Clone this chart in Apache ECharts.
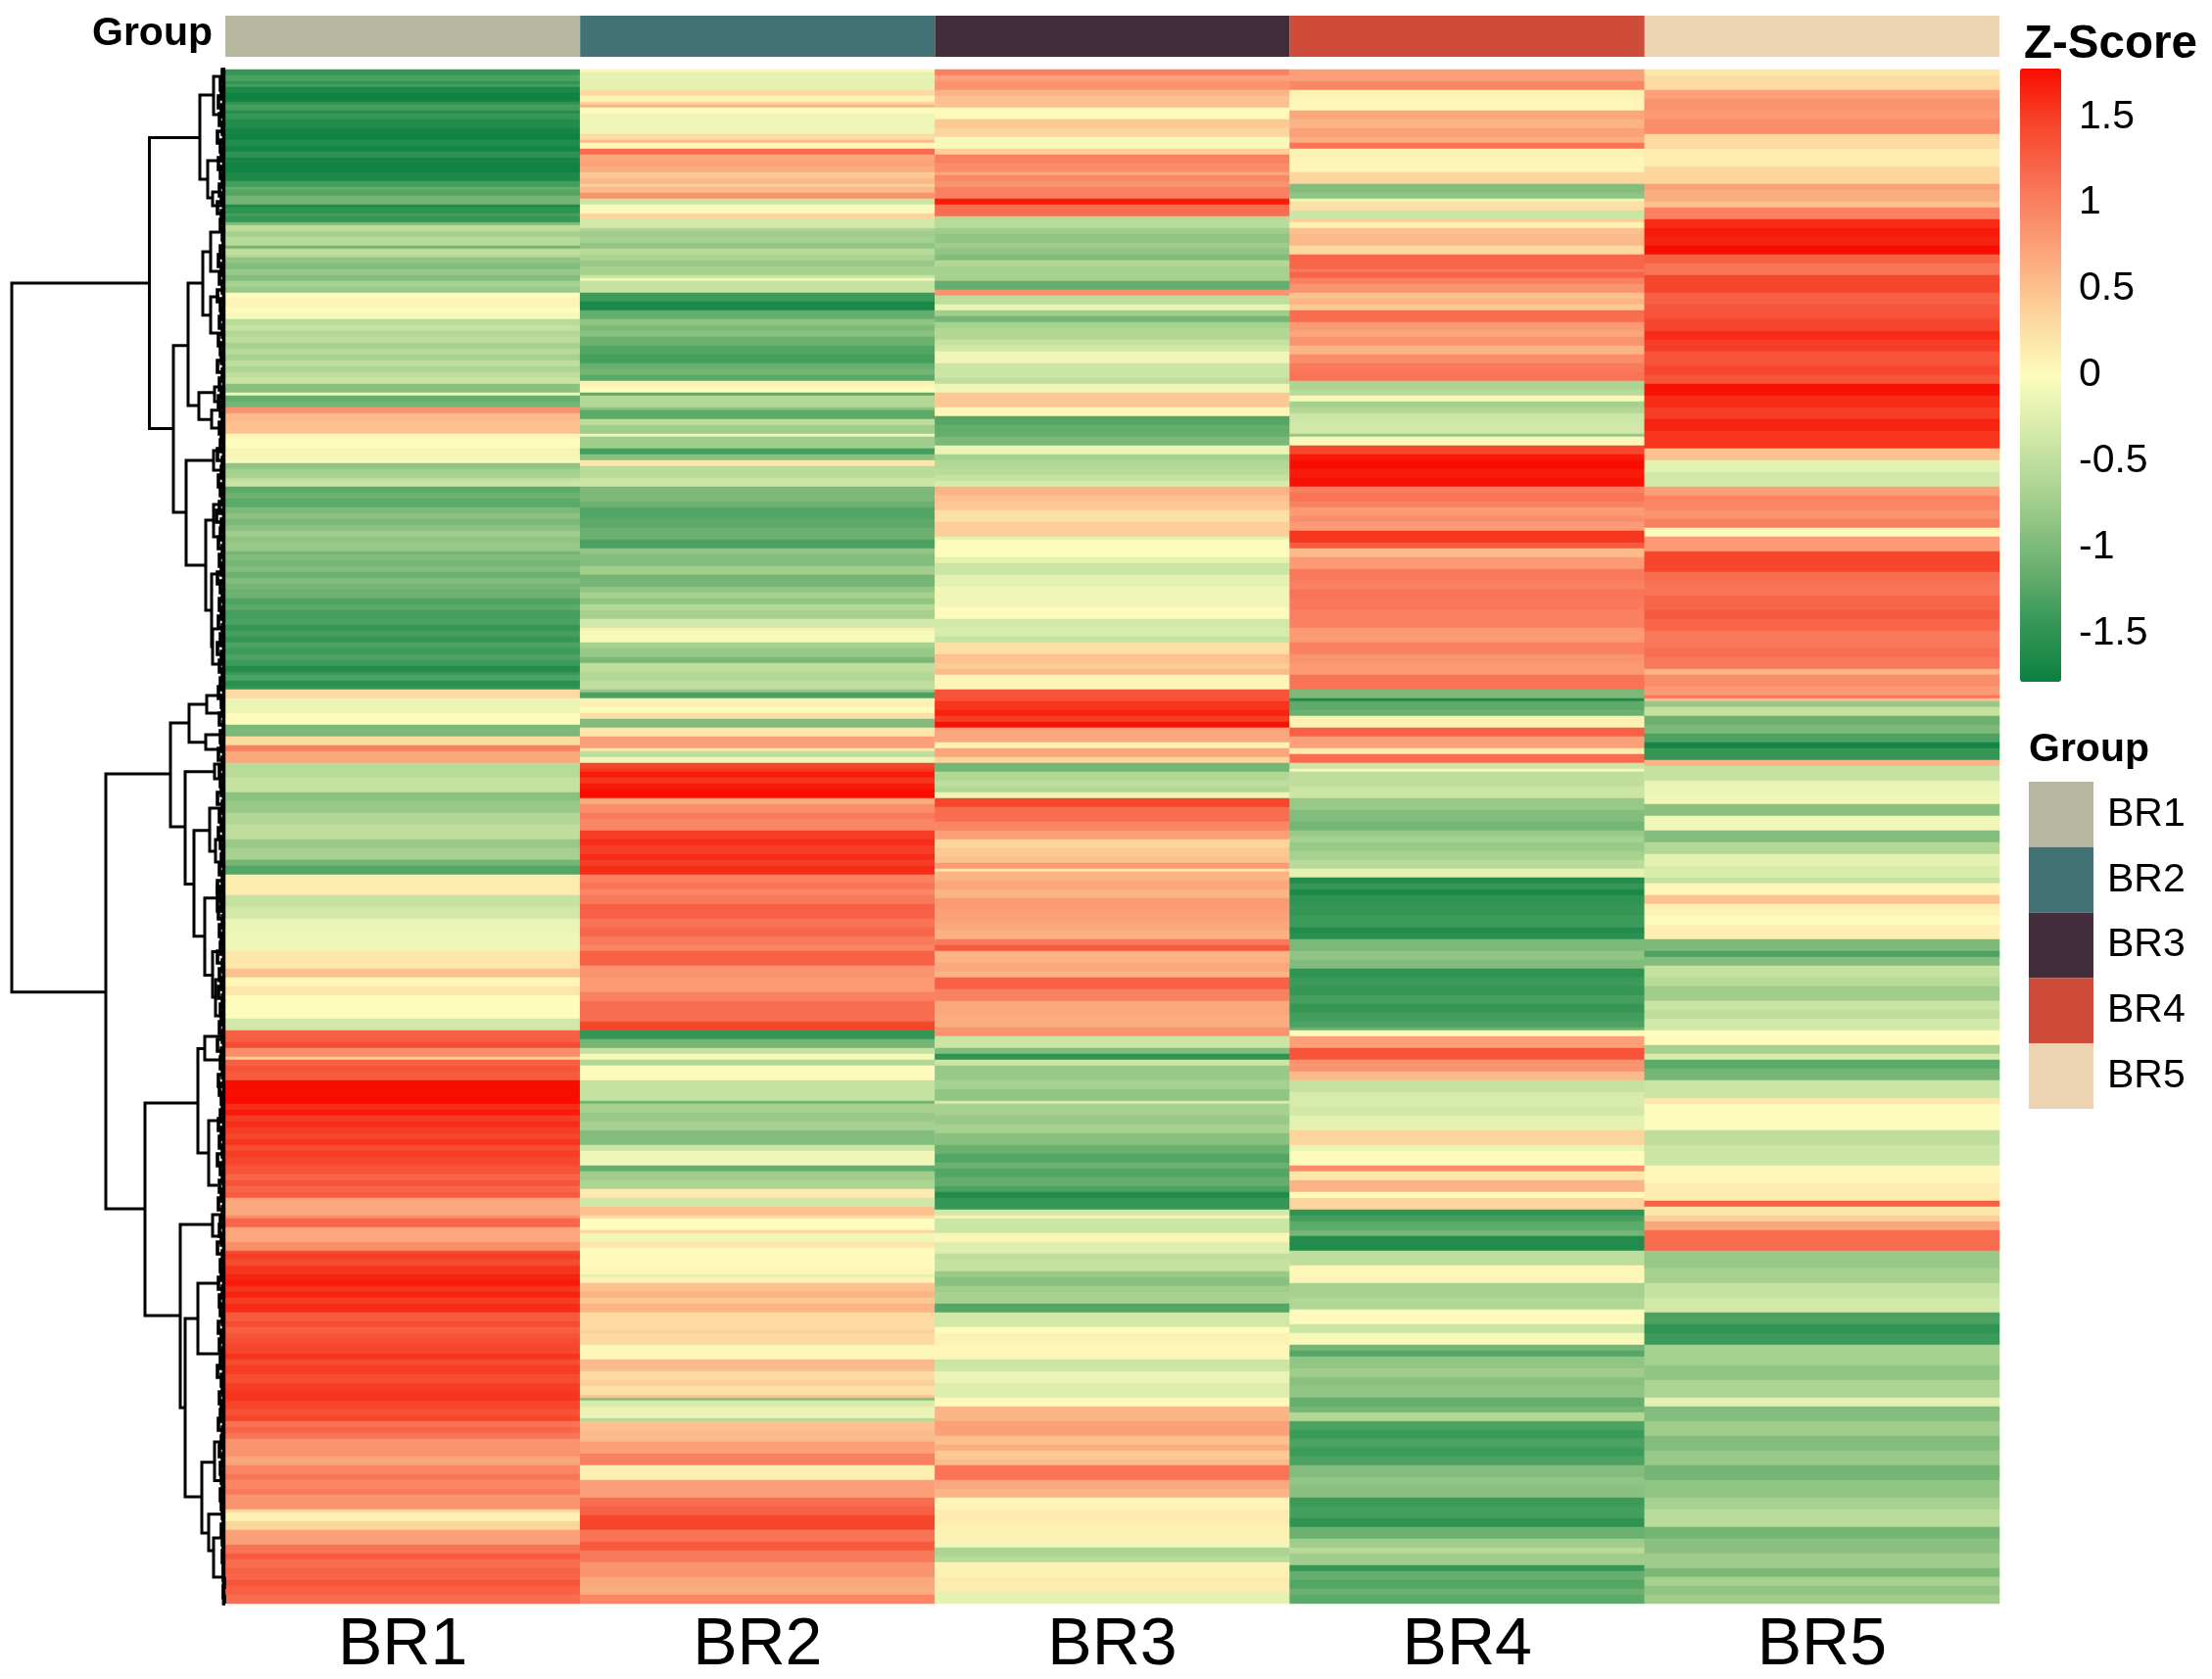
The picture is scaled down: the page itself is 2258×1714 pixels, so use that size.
<!DOCTYPE html>
<html>
<head>
<meta charset="utf-8">
<title>Z-Score heatmap</title>
<script src="https://cdn.jsdelivr.net/npm/echarts@6/dist/echarts.min.js"></script>
<style>
  html, body { margin: 0; padding: 0; background: #fff; }
  #main { width: 2258px; height: 1714px; }
</style>
</head>
<body>
<div id="main"></div>
<script>
// groups (columns) and their annotation colours
const groups = ['BR1', 'BR2', 'BR3', 'BR4', 'BR5'];
const groupColors = ['#B7B7A0', '#427275', '#432D3B', '#CF4C3A', '#ECD4B3'];
const rowCount = 522;
const scoreTicks = [-1.5, -1, -0.5, 0, 0.5, 1, 1.5];
const scoreColors = ['#0C8040', '#389858', '#72B474', '#A5D08E', '#D0E8A8', '#FDFCBD', '#FCD49C', '#FBA57C', '#F9775A', '#F64A2F', '#F80D00'];

// each column is read top to bottom as [last row of the band, z-score]
const br1Bands = [
  [2,-1.45],[3.5,-1.3],[5,-1.5],[6.3,-1.35],[8,-1.65],[10.8,-1.75],[12,-1.5],[13.5,-1.35],[15,-1.6],[17,-1.45],[19.7,-1.6],[22,-1.7],[24,-1.75],
  [26,-1.6],[28,-1.7],[29.7,-1.5],[32,-1.7],[35,-1.75],[38,-1.65],[39.5,-1.35],[41,-1.15],[43,-1.25],[45.8,-1.05],[47,-1.6],[48.6,-1.5],[50.3,-1.35],
  [51.9,-1.45],[53,-1],[55,-0.5],[57,-0.7],[59.7,-0.55],[60.8,-1.05],[62.5,-0.5],[64,-0.6],[66,-0.85],[68,-0.95],[70,-0.8],[71.9,-0.95],[73.5,-0.7],
  [75.8,-0.8],[78,0.02],[80.5,0.08],[83,0],[85.2,-0.05],[87,-0.55],[89,-0.45],[91,-0.6],[93,-0.5],[95,-0.7],[97,-0.55],[99,-0.7],[101,-0.5],[103,-0.65],
  [105,-0.5],[107.4,-0.4],[109.7,-0.9],[110.8,-0.1],[112.5,-1.15],[114.7,-1.05],[117.4,0.85],[120,0.55],[123.6,0.5],[126,0.05],[128.5,0],[130,-0.1],
  [131.8,0.08],[133.5,-0.05],[135.5,-0.85],[138.5,-0.7],[140,-0.5],[142.1,-0.4],[144,-1.2],[146.3,-1.1],[148.5,-1.2],[150.5,-1],[152.5,-0.9],[154.5,-1],
  [157.4,-0.9],[159,-0.75],[161,-0.85],[163.5,-0.8],[165,-1.05],[167,-0.95],[169,-1.05],[171,-0.95],[173,-1.1],[175,-0.95],[177,-1.05],[179.7,-1.1],
  [182,-1.3],[184,-1.2],[186.9,-1.35],[189,-1.3],[191,-1.45],[193,-1.35],[195,-1.45],[197,-1.3],[199,-1.4],[201,-1.3],[203,-1.4],[205,-1.6],[206.3,-1.45],
  [208,-1.3],[209.5,-1.55],[211.3,-1.45],[214,0.3],[219,-0.15],[223,0],[227.4,-1],[229.7,0.3],[231.9,1],[235.8,0.7],[241,-0.55],[246.3,-0.45],[249,-0.9],
  [253,-0.8],[257,-0.6],[261.9,-0.5],[265,-0.8],[268.5,-0.7],[271,-1.05],[274.1,-1.25],[281,0.15],[284.5,-0.45],[288.5,-0.35],[294,-0.15],[299.7,-0.1],
  [306.3,0.2],[308.5,0.5],[311.9,0.05],[315.2,0.2],[323,0],[327,-0.35],[330.7,1.25],[333,1.4],[335.8,0.9],[337,0.4],[339,1.25],[341,1.35],[344.1,1.3],
  [352,1.78],[354,1.6],[356,1.7],[358,1.5],[360,1.6],[362,1.5],[364,1.45],[366,1.55],[368,1.4],[370,1.5],[373,1.45],[376,1.35],[378,1.2],[380,1.35],
  [382,1.2],[384,1.3],[389.7,0.7],[391.3,0.9],[394,1.2],[398.5,0.7],[401.9,0.9],[403,1.4],[405,1.5],[407,1.4],[409.7,1.55],[412,1.65],[414,1.7],[416,1.55],
  [418,1.65],[420,1.5],[423,1.6],[426,1.3],[428,1.4],[430,1.25],[432,1.35],[434.1,1.4],[437,1.45],[439,1.55],[441,1.4],[444,1.5],[447,1.4],[450,1.5],
  [453,1.55],[456,1.45],[458,1.35],[459.7,1.45],[462,1.1],[464,1.2],[466.3,1.1],[471.9,0.85],[475.2,0.7],[478,0.95],[480,1.1],[482.5,0.95],[485.2,1.05],
  [489.7,0.85],[491.3,0.35],[494.1,0.1],[496.9,0.35],[502.4,0.75],[505,1.1],[507,1.3],[509.5,1.15],[511.9,1.25],[514,1.2],[516,1.35],[518.5,1.25],[522,1.15]
];
const br2Bands = [
  [1.3,0.05],[6.9,-0.2],[8.8,0.3],[10.5,0.1],[11.9,0.35],[13.3,0.6],[15.2,0],[22.4,-0.12],[23.6,0.3],[25.2,0.55],[27.2,0.05],
  [28.8,1.15],[31,0.7],[33,0.75],[35.2,0.65],[37,0.45],[38.5,0.55],[40.2,0.4],[41.9,0.55],[43.9,0.85],[45.8,-0.4],[48.6,0.03],[50.5,0.35],[53.6,-0.35],
  [55,-0.65],[57,-0.75],[59,-0.7],[60.8,-0.85],[63,-0.55],[65,-0.65],[67,-0.8],[69.7,-0.7],[71,-0.45],[72.4,-0.1],[75.8,-0.45],[79.1,-1.4],[81.7,-1.65],
  [85.2,-1.15],[87,-0.85],[89,-1],[90.8,-0.9],[94.1,-1.1],[96.9,-1.25],[100.2,-1.35],[102,-1.15],[104,-1.05],[106.3,-1.2],[108,0.1],[109.9,0],[111,-1.2],
  [114.7,-0.6],[116.3,-0.9],[118.6,-1.2],[120.8,-0.5],[123.6,-0.75],[125.2,-0.1],[128.5,-0.75],[130.8,-1.35],[133,-0.9],[135,0.2],[138.5,-0.55],[142.1,-0.4],
  [144.7,-1],[146.5,-1],[149.1,-1.1],[153,-1.25],[155.8,-1.2],[159.7,-1.1],[163.3,-1.3],[165.2,-0.85],[169.1,-0.95],[172.4,-0.75],[176.3,-1.05],[178,-0.85],
  [180,-0.7],[181.9,-0.85],[184,-0.6],[186.9,-0.7],[189.7,-0.35],[190.8,0.15],[194.7,-0.05],[197,-0.7],[199.7,-0.8],[202.4,-1],[205,-0.5],[208,-0.6],[211.3,-0.5],
  [212.4,-0.8],[214.1,-1.3],[216.9,0.1],[218.6,0],[220.8,0.25],[224.1,-0.95],[226.9,0.2],[230.8,0.75],[232.1,0.2],[233.5,-0.5],
  [235.8,-0.12],[237.5,1.45],[239,1.55],[241,1.7],[243,1.55],[245,1.7],[248.3,1.78],[250.2,0.65],[253,0.9],[255,1.05],[258.8,0.95],[262,1.5],[264,1.6],[267,1.5],
  [269,1.6],[271,1.5],[273.5,1.6],[277,1],[279,1.1],[281,0.95],[284.1,1.05],[289.1,1.25],[292,1.1],[295,1.2],[298,1.05],
  [300.2,0.95],[305.2,1.25],[309,0.85],[314.1,0.8],[317.4,1],[323.6,1.15],[327.1,1.45],[330.2,-1.45],[333,-1.05],[335.2,-0.45],[336.9,-0.05],
  [339.1,-0.6],[344.1,0.02],[350.8,-0.45],[352.1,-1.05],[355,-0.7],[358,-0.8],[361.3,-0.7],[365.8,-0.95],[368,-0.4],[373,-0.1],[375,-1.15],[378,-0.75],[381.3,-0.65],
  [384.1,0.15],[387.4,-0.35],[389.7,0.5],[390.6,0.3],[394.7,0],[396.3,0.35],[398.6,-0.1],[400.8,0.2],[408,0.02],[409.7,0.05],
  [411.3,-0.2],[413.2,0.1],[416,0.5],[418,0.6],[420.2,0.45],[422.7,0.6],[428.6,0.3],[430.2,0.4],[434.1,0.3],[438.6,0.05],[443,0.55],[446,0.3],[448,0.4],[450.8,0.25],
  [452.2,0.45],[453,-0.9],[454.7,-0.3],[459.1,-0.15],[459.9,-0.6],[463,0.5],[466.9,0.55],[470.8,0.75],[475.2,1],[480.2,0.12],[485.8,0.75],
  [489,1.15],[492.4,1.25],[496.9,1.45],[500.8,1.1],[503.6,1.3],[508,1.05],[513,0.85],[516,0.7],[519.1,0.65],[522,0.95]
];
const br3Bands = [
  [1.9,1],[4,0.75],[6.9,0.85],[8.5,0.6],[10.8,0.5],[13.3,0.5],[17.4,0.03],[20,0.45],[23,0.35],[27.4,-0.05],[29.3,0.4],[32,1],[34.7,0.9],[35.8,0.7],[38,0.95],[40,0.85],
  [43.9,1],[46.3,1.7],[50.4,1.15],[53.6,-0.55],[56,-0.75],[59,-0.85],[61,-0.75],[63,-0.85],[65.2,-0.95],[67,-0.6],[71.9,-0.7],[75.4,-1.15],[76.9,0.85],[80.2,-0.5],[81.9,-0.15],
  [83.5,-0.75],[85.8,-1.05],[88,-0.7],[91.9,-0.6],[94,-0.45],[96.3,-0.35],[100.2,-0.1],[104.7,-0.4],[106.9,-0.5],[109.7,-0.1],[114.7,0.45],[118,0.05],
  [121,-1.25],[124.7,-1.15],[128.3,-1],[130.8,-0.15],[133,-0.7],[135.8,-0.6],[138,-0.55],[140.2,-0.45],[142.1,-0.3],[144.5,0.6],[146.9,0.5],[150.2,0.45],[154,0.25],[158.5,0.4],
  [159.7,-0.2],[165.8,0],[168,-0.2],[172.4,-0.4],[176.3,-0.2],[183,-0.1],[186.9,0],[190,-0.35],[193,-0.3],[194.7,-0.45],[199.1,0.25],[202,0.5],[204,0.42],[206.3,0.55],
  [211.3,0.07],[215.2,1.35],[218,1.55],[220,1.65],[222,1.5],[224.1,1.75],[228.6,0.7],[230.8,0.1],[233.5,0.7],[235.8,0.35],[239.4,-1.05],[242,-0.6],[244,-0.5],[246.3,-0.6],[248.3,-0.15],
  [250.8,1.45],[255.8,1.15],[259.1,0.95],[261.9,0.75],[265,0.35],[268,0.45],[270.2,0.5],[271.5,0.8],[273,0.2],[276,0.6],[279,0.7],[282.4,0.6],[286,0.8],[289.7,0.75],[293,0.7],[296.3,0.62],
  [298,1.05],[300.2,1.3],[304,0.6],[306.5,0.7],[309.1,0.6],[313,1.25],[317.4,1],[322,0.7],[326.3,0.65],[329.1,0.85],[333,-0.4],[335.2,-0.95],[336.9,-1.5],[339.1,-0.4],
  [344.1,-0.8],[347.4,-0.7],[350.8,-0.85],[352.4,-0.3],[356,-0.7],[359,-0.8],[361.9,-0.7],[366.3,-0.9],[369,-1.1],[371.5,-1.25],[374.1,-1.1],[377,-1.25],[379.5,-1.15],[382,-1.3],
  [384.1,-1.6],[387.7,-1.45],[389.7,-0.35],[391.3,0.1],[395.8,-0.4],[396.3,-1],[398.6,0.05],[403,-0.25],[405,-0.5],[408.6,-0.45],[411,-0.8],[414,-0.9],[416.3,-0.75],[420.2,-0.7],[422.7,-1.25],
  [428,-0.35],[430.2,0],[433.6,0.1],[434.3,0.45],[438.6,0.05],[442.5,-0.4],[447.4,-0.15],[451.9,-0.25],[454.9,0.03],[460.2,0.6],
  [464.7,0.75],[468,0.5],[470,0.65],[473,0.45],[475.2,0.55],[480.2,1.1],[483,0.7],[485.8,0.6],[490.2,0.05],[494.7,0.15],[501.3,0.1],[503,-0.1],[505.5,-0.65],[508,-0.55],[513,0.1],[517.5,0.15],
  [522,-0.2]
];
const br4Bands = [
  [4.1,0.75],[6.9,0.95],[10.2,0.1],[13.5,0.05],[17,0.7],[20.2,0.6],[23,0.75],[24.7,0.65],[26.9,1.1],[30,0.1],[34.7,0.05],[39.1,0.35],[41.5,-0.95],[43.9,-0.85],[45.2,-0.1],
  [48,0.25],[50.5,-0.4],[51.9,0.4],[53.6,0.1],[56,0.5],[60.2,0.55],[63,0.3],[67.5,1.2],[69,1.05],[71,1.2],[73,1],[75.8,0.85],[78,0.5],[80,0.6],[81.9,0.45],[85.8,1.15],[89,0.8],[91,0.7],[94.1,0.85],
  [97.4,0.6],[100.2,0.9],[103,1.05],[106.3,1.1],[108.5,-0.65],[110.8,-0.55],[112.8,-0.05],[115,-0.7],[117.4,-0.6],[120,-0.4],[123.6,-0.35],[124.7,-0.8],[128.3,-0.05],[130.8,1.45],
  [133,1.7],[136,1.78],[139,1.7],[141.9,1.75],[144,1.0],[146.9,1.1],[149,1],[152,0.8],[154,0.9],[156.9,0.8],[160.8,1.55],[163.3,1.3],[165.8,0.55],[170.2,0.8],[174,1.05],[177,1],[180,1.1],[184.1,1.05],[189.7,1],[194.7,0.8],
  [198.6,1],[202,0.85],[206.3,0.8],[211.3,1.1],[214.1,-1],[215.2,-1.6],[217.5,-1.2],[220.2,-1.1],[224.1,0.1],[226.9,1.25],[230.8,0.75],[232.8,0.15],
  [235.8,1.15],[237.5,-0.4],[239.4,-0.05],[244,-0.5],[248.3,-0.4],[251.8,-0.8],[255.8,-0.95],[258.5,-1.05],[261,-0.8],[263,-0.7],[266,-0.8],[268.5,-0.7],
  [271.9,-0.55],[274.7,-0.2],[277,-1.6],[279,-1.45],[281,-1.65],[284.1,-1.5],[288,-1.45],[291.9,-1.4],[293.8,-1.6],[295.8,-1.55],[300.2,-1],[303,-0.85],[305.8,-0.95],[309,-1.5],[312,-1.4],[315,-1.45],[318,-1.35],[321,-1.45],[324,-1.35],[326.3,-1.3],[327.4,-1.1],[329.1,0],
  [333,0.75],[336.9,1.35],[340.8,0.85],[344.1,0.55],[348,-0.45],[353,-0.3],[356.3,-0.35],[361.3,-0.2],[365.8,0.35],[368,-0.15],
  [373,0],[375,0.9],[378,0.2],[381.9,0.6],[384.1,0],[387.7,0.35],[389.7,-1.5],[392,-1.35],[395.2,-1.2],[397.4,-1.05],[401.9,-1.6],[406.9,-0.5],
  [413,0.05],[418,-0.7],[422.4,-0.6],[427.4,0.02],[430.2,-0.4],[434.3,-0.05],[436,-1.05],[438.2,-1.25],[442,-0.85],[445,-0.75],[448,-0.9],[451.9,-0.85],[455,-1.15],[457.4,-1.05],[459.9,-0.6],[463,-1.3],[466,-1.4],[469,-1.3],[472,-1.4],[475.2,-1.3],
  [479,-0.95],[482,-0.85],[485.8,-0.9],[489,-1.4],[492.9,-1.35],[496,-1.5],[499.7,-1.1],[503,-0.75],[505,-0.55],[508.6,-0.75],[511,-1.45],[514,-1.15],[517,-1.25],[519,-1.1],[522,-1.2]
];
const br5Bands = [
  [1.9,0.2],[6.9,0.3],[10,0.75],[13.5,0.85],[17,0.8],[21.9,0.9],[27.4,0.3],[33,0.15],[38.5,0.35],[41,0.75],[44.7,0.65],[46.9,0.5],[50.8,1],[54,1.6],[57,1.7],[60,1.65],[63,1.78],[66,1.25],[70.2,1.1],
  [75.8,1.45],[80,1.25],[85.2,1.35],[89,1.45],[92,1.6],[96.3,1.5],[101,1.35],[104,1.45],[107.4,1.35],[110.8,1.75],[115,1.6],[119,1.5],[123,1.65],[128.5,1.55],[133,0.5],[137.4,-0.2],[141.9,-0.35],[145,0.75],[150,0.95],[153,0.85],[156.3,1],
  [158.5,0],[163.5,0.8],[170.8,1.45],[174,1.15],[178.6,1.1],[184,1.2],[187,1.3],[190.8,1.2],[197,1.05],[200,1.15],[204.1,1.05],[206.3,0.6],[209.7,0.9],[213.2,0.8],[214.1,1.1],[215.4,0.5],
  [217.4,-0.8],[219.7,-0.45],[223,-1.1],[226.3,-1],[228.6,-1.3],[230.8,-1.7],[235.4,-1.45],[237.4,0.6],[241.9,-0.45],[246.9,-0.15],
  [249.6,-0.1],[253.5,-0.9],[258.6,-0.1],[262.5,-0.95],[267.4,-0.6],[271,-0.2],[275.2,-0.3],[277.4,-0.45],[281.3,0.05],[284.1,0.5],[288,0.1],[291,0],[296.3,0.12],
  [299.7,-1],[302.4,-1.3],[305.2,-0.95],[309,-0.45],[311.9,-0.55],[316.9,-0.75],[320,-0.4],[323,-0.5],[327.4,-0.35],[331.9,0],[335.2,-0.7],[336.9,-0.3],
  [340,-1.2],[343.6,-1.05],[349.7,-0.4],[352.4,0.2],[360.8,0],[366.3,-0.5],[373,-0.4],[378.5,0.05],[384.7,0.15],[387.4,1.25],[389.7,0.2],
  [392.4,0.4],[394.7,0.7],[401.9,1.15],[408,-0.8],[413,-0.7],[418,-0.45],[423,-0.35],[427,-1.3],[430,-1.5],[434.3,-1.4],[441,-0.7],[446,-0.85],[451.9,-0.65],[455.2,-0.2],
  [460,-0.95],[465,-0.75],[470,-0.95],[475.2,-0.8],[480,-1.05],[485.8,-0.85],[490,-0.7],[496.3,-0.55],[500,-1.05],[505.2,-0.9],[510,-0.75],[513,-1],[516,-0.7],[519,-0.85],[522,-0.75]
];

// dendrogram merges as [height, top row, top child height, bottom row, bottom child height]
const mergeNodes = [
  [218,72.7,77.5,313.9,122],[77.5,23.2,26,122.2,53],[26,8.7,12,37.3,18],[12,2.3,4,15.3,4],[18,31,3,43.7,13],[13,41.7,4,46.3,3],
  [53,93.9,38,150.7,40],[38,72.7,23,114.3,27],[23,62,15,83.6,15],[15,55.3,5,68.7,4],[15,77.3,6,89.7,4],[27,109.9,11,119.1,14],
  [11,108,3,113,3],[14,115.9,4,122,3],[40,133,12,168.7,20],[12,129.7,4,136.3,3],[20,153.3,12,184,14],[12,148,3,159,4],[14,171.7,5,196.3,13],
  [13,190.3,4,202.3,3],[122,239.7,56,387.7,82],[56,222.3,37,257.7,41],[37,216,19,228.9,20],[19,213,5,219,4],[20,226.3,5,231.3,5],
  [41,238.9,11,277.2,32],[11,236.3,3,241.3,3],[32,258.9,16,294.9,21],[16,251.3,3,266,10],[10,262,3,269.7,4],[21,281.9,8,308.2,13],
  [8,278,3,286.3,3],[13,300.2,5,315.7,10],[10,309.7,3,322,4],[82,351.7,28,424,46],[28,333.2,21,368.7,17],[21,329,4,337,3],[17,357.7,4,379.7,8],
  [46,393,13,455.3,41],[13,389.7,3,397,3],[41,425,28,485.7,24],[28,413,8,437,4],[24,473.9,11,498,17],[11,467,4,480.2,4],[17,491.6,3,504,12],
  [12,499.7,4,513,3],[1.6,0,0,522,0]
];
// small leaf brackets down the edge of the heatmap, one per three rows
const leafHeights = [
  3,5,4,7,4,6,3,8,5,4,7,5,3,6,4,8,4,5,3,2,5,7,4,6,3,8,5,4,6,3,
  7,5,4,8,3,6,4,7,5,3,6,4,5,8,3,4,7,5,3,6,9,4,5,7,3,6,4,8,5,3,
  6,4,7,3,5,8,4,6,3,5,7,4,3,6,2,5,4,7,3,6,5,4,8,3,6,4,7,5,3,4,
  6,3,8,5,4,7,3,6,4,5,8,3,6,4,7,3,5,4,6,3,8,4,5,3,7,6,4,3,5,7,
  4,6,3,8,5,3,6,4,7,3,5,6,4,8,3,5,4,7,3,6,5,3,7,4,6,3,5,8,4,3,
  6,4,5,7,3,4,6,3,5,4,3,5,4,3,2,4,3,2,3,2,2,1,2,1
];

const heatData = [];
[br1Bands, br2Bands, br3Bands, br4Bands, br5Bands].forEach(function (bands, col) {
  let b = 0;
  for (let r = 0; r < rowCount; r++) {
    while (b < bands.length - 1 && bands[b][0] < r + 0.5) b++;
    heatData.push([col, r, bands[b][1]]);
  }
});
const rowNames = [];
for (let r = 0; r < rowCount; r++) rowNames.push(String(r));

const leafNodes = leafHeights.map(function (h, i) {
  return [h, i * 3, 0, Math.min(i * 3 + 4, rowCount), 0];
});

function renderMerge(params, api) {
  const pts = [
    api.coord([api.value(2), api.value(1)]),
    api.coord([api.value(0), api.value(1)]),
    api.coord([api.value(0), api.value(3)]),
    api.coord([api.value(4), api.value(3)])
  ];
  return {
    type: 'polyline',
    shape: { points: pts },
    style: { fill: null, stroke: '#000', lineWidth: api.value(0) > 9 ? 3 : 3.6 }
  };
}

const font = '"Liberation Sans", Arial, sans-serif';
const chart = echarts.init(document.getElementById('main'), null, { renderer: 'canvas' });
chart.setOption({
  animation: false,
  backgroundColor: '#fff',
  title: [
    { text: 'Group', left: 94, top: 14, padding: 0, textStyle: { fontFamily: font, fontSize: 41, fontWeight: 'bold', color: '#000' } },
    { text: 'Z-Score', left: 2066, top: 22, padding: 0, textStyle: { fontFamily: font, fontSize: 47.5, fontWeight: 'bold', color: '#000' } },
    { text: 'Group', left: 2071, top: 745, padding: 0, textStyle: { fontFamily: font, fontSize: 41, fontWeight: 'bold', color: '#000' } }
  ],
  grid: [
    { left: 230, top: 71, width: 1811, height: 1566 },
    { left: 0, top: 71, width: 230, height: 1566 },
    { left: 230, top: 16, width: 1811, height: 42 },
    { left: 2071, top: 798, width: 66, height: 334 },
    { left: 2062, top: 70, width: 42, height: 626 }
  ],
  xAxis: [
    {
      gridIndex: 0, type: 'category', data: groups,
      axisLine: { show: false }, axisTick: { show: false },
      axisLabel: { fontFamily: font, fontSize: 68, color: '#000', margin: 9 }
    },
    { gridIndex: 1, type: 'value', min: 0, max: 230, inverse: true, show: false },
    { gridIndex: 2, type: 'category', data: groups, show: false },
    { gridIndex: 3, type: 'value', min: 0, max: 1, show: false },
    { gridIndex: 4, type: 'value', min: 0, max: 1, show: false }
  ],
  yAxis: [
    { gridIndex: 0, type: 'category', data: rowNames, inverse: true, show: false },
    { gridIndex: 1, type: 'value', min: 0, max: rowCount, inverse: true, show: false },
    { gridIndex: 2, type: 'value', min: 0, max: 1, show: false },
    {
      gridIndex: 3, type: 'category', data: groups, inverse: true, position: 'right',
      axisLine: { show: false }, axisTick: { show: false },
      axisLabel: { fontFamily: font, fontSize: 41, color: '#000', margin: 14, padding: [5, 0, 0, 0] }
    },
    {
      gridIndex: 4, type: 'value', min: -1.78, max: 1.78, position: 'right',
      splitLine: { show: false }, axisLine: { show: false }, axisTick: { show: false },
      axisLabel: { fontFamily: font, fontSize: 41, color: '#000', margin: 18, padding: [3, 0, 0, 0], customValues: scoreTicks }
    }
  ],
  visualMap: {
    type: 'continuous', seriesIndex: 0, min: -1.78, max: 1.78, calculable: false, realtime: false,
    left: 2062, top: 70, itemWidth: 42, itemHeight: 626, padding: 0, text: null, showLabel: false,
    hoverLink: false, inRange: { color: scoreColors }
  },
  series: [
    {
      type: 'heatmap', xAxisIndex: 0, yAxisIndex: 0, data: heatData, progressive: 0,
      itemStyle: { borderWidth: 0 }, emphasis: { disabled: true }
    },
    {
      type: 'custom', xAxisIndex: 1, yAxisIndex: 1, renderItem: renderMerge, silent: true,
      data: leafNodes.concat(mergeNodes), encode: { x: [0, 2, 4], y: [1, 3] }, clip: false
    },
    {
      type: 'bar', xAxisIndex: 2, yAxisIndex: 2, barWidth: '100%', silent: true,
      data: groupColors.map(function (c) { return { value: 1, itemStyle: { color: c } }; })
    },
    {
      type: 'bar', xAxisIndex: 3, yAxisIndex: 3, barWidth: '100%', silent: true,
      data: groupColors.map(function (c) { return { value: 1, itemStyle: { color: c } }; })
    },
    { type: 'scatter', xAxisIndex: 4, yAxisIndex: 4, data: [], silent: true }
  ]
});
</script>
</body>
</html>
